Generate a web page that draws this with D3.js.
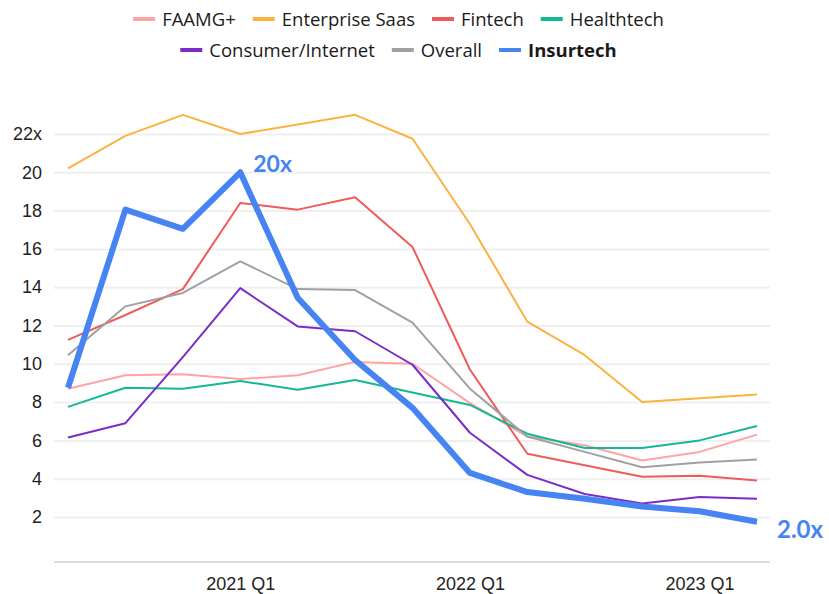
<!DOCTYPE html>
<html>
<head>
<meta charset="utf-8">
<script src="https://cdn.jsdelivr.net/npm/d3@7"></script>
<style>
  body { margin: 0; background: #fff; }
  svg { font-family: "Source Sans Pro", Lato, "Noto Sans", sans-serif; }
  .grid line { stroke: #efefef; stroke-width: 2; }
  .grid path { display: none; }
  .y.axis text, .x.axis text { font-size: 18px; fill: #222; }
  .legend text { font-family: "Open Sans", "Noto Sans", sans-serif; }
</style>
</head>
<body>
<script>
const chartWidth = 829;
const chartHeight = 594;

// quarters on the x axis
const quarters = ['2020 Q2', '2020 Q3', '2020 Q4', '2021 Q1', '2021 Q2', '2021 Q3', '2021 Q4',
  '2022 Q1', '2022 Q2', '2022 Q3', '2022 Q4', '2023 Q1', '2023 Q2'];
const xTickLabels = ['2021 Q1', '2022 Q1', '2023 Q1'];
const yTicks = [2, 4, 6, 8, 10, 12, 14, 16, 18, 20, 22];

// EV / revenue multiples per sector
const faamg = [8.7, 9.4, 9.45, 9.2, 9.4, 10.1, 10.0, 7.95, 6.2, 5.75, 4.95, 5.4, 6.3];
const enterpriseSaas = [20.2, 21.9, 23.0, 22.0, 22.5, 23.0, 21.75, 17.3, 12.2, 10.45, 8.0, 8.2, 8.4];
const fintech = [11.25, 12.55, 13.9, 18.4, 18.05, 18.7, 16.1, 9.7, 5.3, 4.7, 4.1, 4.15, 3.9];
const healthtech = [7.75, 8.75, 8.7, 9.1, 8.65, 9.15, 8.5, 7.85, 6.35, 5.6, 5.6, 6.0, 6.75];
const consumerInternet = [6.15, 6.9, 10.35, 13.95, 11.95, 11.7, 9.95, 6.4, 4.2, 3.2, 2.7, 3.05, 2.95];
const overall = [10.45, 13.0, 13.7, 15.35, 13.9, 13.85, 12.15, 8.7, 6.2, 5.4, 4.6, 4.85, 5.0];
const insurtech = [8.75, 18.05, 17.05, 20.0, 13.45, 10.2, 7.7, 4.3, 3.3, 2.95, 2.55, 2.3, 1.75];

const series = [
  { label: 'FAAMG+', values: faamg, colour: '#ffa3a3', width: 2 },
  { label: 'Enterprise Saas', values: enterpriseSaas, colour: '#fbb23f', width: 2 },
  { label: 'Fintech', values: fintech, colour: '#ee5b5b', width: 2 },
  { label: 'Healthtech', values: healthtech, colour: '#14b896', width: 2 },
  { label: 'Consumer/Internet', values: consumerInternet, colour: '#7b2cc6', width: 2 },
  { label: 'Overall', values: overall, colour: '#a0a0a0', width: 2 },
  { label: 'Insurtech', values: insurtech, colour: '#4683f3', width: 6, bold: true }
];

const plotLeft = 54;
const plotRight = 770;

const svg = d3.select('body').append('svg')
    .attr('width', chartWidth)
    .attr('height', chartHeight);

const xScale = d3.scalePoint()
    .domain(quarters)
    .range([68, 757]);

const yScale = d3.scaleLinear()
    .domain([-0.35, 22])
    .range([562, 134]);

// gridlines + y labels
svg.append('g')
    .attr('class', 'grid')
    .attr('transform', `translate(${plotLeft},0)`)
    .call(d3.axisLeft(yScale)
      .tickValues(yTicks)
      .tickSize(-(plotRight - plotLeft))
      .tickFormat(''));

svg.append('g')
    .attr('class', 'y axis')
    .attr('transform', `translate(${plotLeft},0)`)
    .call(d3.axisLeft(yScale)
      .tickValues(yTicks)
      .tickSize(0)
      .tickPadding(12)
      .tickFormat(d => d === 22 ? '22x' : d))
    .call(g => g.select('.domain').remove());

// baseline
svg.append('line')
    .attr('x1', plotLeft)
    .attr('x2', plotRight)
    .attr('y1', 562)
    .attr('y2', 562)
    .attr('stroke', '#dcdcdc')
    .attr('stroke-width', 2);

svg.append('g')
    .attr('class', 'x axis')
    .attr('transform', 'translate(0,562)')
    .call(d3.axisBottom(xScale)
      .tickValues(xTickLabels)
      .tickSize(0)
      .tickPadding(15))
    .call(g => g.select('.domain').remove());

// lines
const line = d3.line()
    .x((d, i) => xScale(quarters[i]))
    .y(d => yScale(d));

svg.append('g')
    .selectAll('path')
    .data(series)
  .enter().append('path')
    .attr('d', d => line(d.values))
    .attr('fill', 'none')
    .attr('stroke', d => d.colour)
    .attr('stroke-width', d => d.width)
    .attr('stroke-linejoin', 'round');

// insurtech labels
const blue = series[6];
svg.append('text')
    .attr('x', xScale(quarters[3]) + 13)
    .attr('y', yScale(insurtech[3]))
    .attr('font-size', 23)
    .attr('font-weight', 'bold')
    .attr('fill', blue.colour)
    .text(d3.max(insurtech).toFixed(0) + 'x');

svg.append('text')
    .attr('x', xScale(quarters[12]) + 20)
    .attr('y', yScale(insurtech[12]) + 16.5)
    .attr('font-size', 24)
    .attr('font-weight', 'bold')
    .attr('fill', blue.colour)
    .text('2.0x');

// legend
const legendRows = [
  { y: 19, items: series.slice(0, 4) },
  { y: 50, items: series.slice(4) }
];
const swatch = 22;
const gap = 17;

legendRows.forEach(row => {
  const g = svg.append('g').attr('class', 'legend');
  let x = 0;
  row.items.forEach(s => {
    const item = g.append('g').attr('transform', `translate(${x},0)`);
    item.append('line')
        .attr('x1', 0).attr('x2', swatch)
        .attr('y1', row.y).attr('y2', row.y)
        .attr('stroke', s.colour)
        .attr('stroke-width', 4);
    const t = item.append('text')
        .attr('x', swatch + 7)
        .attr('y', row.y + 7)
        .attr('font-size', 18.5)
        .attr('font-weight', s.bold ? 'bold' : 'normal')
        .attr('fill', '#1a1a1a')
        .text(s.label);
    x += swatch + 7 + t.node().getComputedTextLength() + gap;
  });
  const total = x - gap;
  g.attr('transform', `translate(${398.5 - total / 2},0)`);
});
</script>
</body>
</html>
